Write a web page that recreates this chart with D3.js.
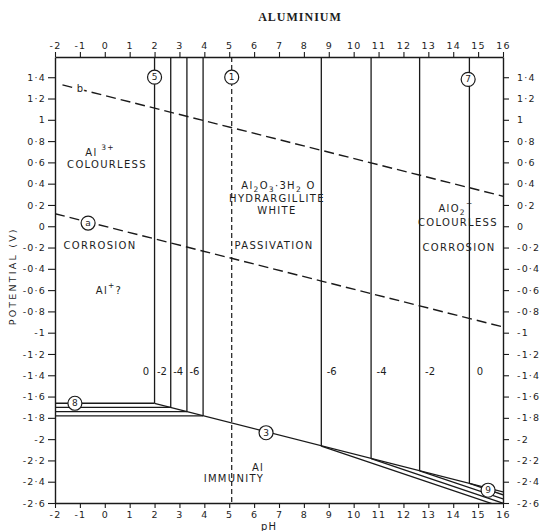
<!DOCTYPE html>
<html>
<head>
<meta charset="utf-8">
<script src="https://cdn.jsdelivr.net/npm/d3@7"></script>
<style>
  html, body { margin: 0; padding: 0; background: #fff; }
  svg { display: block; }
  text { fill: #1d1d1d; }
</style>
</head>
<body>
<svg id="chart" width="542" height="531"></svg>
<script>
// Potential–pH equilibrium diagram for the aluminium–water system at 25 °C.

const phTicks = d3.range(-2, 17, 1);
const potentialTicks = [1.4, 1.2, 1, 0.8, 0.6, 0.4, 0.2, 0, -0.2, -0.4, -0.6, -0.8, -1, -1.2, -1.4, -1.6, -1.8, -2, -2.2, -2.4, -2.6];

// log activity of dissolved aluminium for each family of lines
const logActivity = [0, -2, -4, -6];
// Al3+ / hydrargillite limits (acid side)
const acidLimitPH = [2.0, 2.65, 3.3, 3.95];
// Al3+ / Al potentials (line 8)
const al3Potential = [-1.663, -1.702, -1.742, -1.781];
// hydrargillite / AlO2- limits (alkaline side), with potentials where they meet line 3
const alkLimitPH = [14.65, 12.65, 10.7, 8.7];
const alkLimitPotential = [-2.416, -2.298, -2.184, -2.066];
// AlO2- / Al (line 9) end potentials at pH 16
const aluminateEndPotential = [-2.523, -2.562, -2.602, -2.641];

// hydrargillite / Al (line 3)
const line3 = [[2.0, -1.663], [16, -2.496]];
// water stability limits
const lineA = [[-2, 0.118], [16, -0.946]];
const lineB = [[-1.7, 1.328], [16, 0.282]];
// neutral line (1)
const neutralPH = 5.1;

const svg = d3.select("#chart");
const x = d3.scaleLinear().domain([-2, 16]).range([55, 503]);
const y = d3.scaleLinear().domain([-2.6, 1.59]).range([503, 57]);

const ink = "#1a1a1a";
const fmtE = v => {
  const r = Math.round(v * 10) / 10;
  if (Number.isInteger(r)) return String(r);
  return r.toFixed(1).replace(".", "·");
};
const fmtPH = v => String(v);

// clip region for plotted lines
svg.append("defs").append("clipPath").attr("id", "plotClip")
  .append("rect").attr("x", x(-2)).attr("y", y(1.59)).attr("width", x(16) - x(-2)).attr("height", y(-2.6) - y(1.59));

const axisFont = "'DejaVu Sans', sans-serif";

// axes
function styleAxis(g) {
  g.select(".domain").attr("stroke", ink).attr("stroke-width", 1.4);
  g.selectAll(".tick line").attr("stroke", ink).attr("stroke-width", 1.1);
  g.selectAll(".tick text").attr("font-family", axisFont).attr("font-size", 9.5)
    .attr("letter-spacing", 1.2).attr("fill", ink);
}
svg.append("g").attr("transform", `translate(0,${y(1.59)})`)
  .call(d3.axisTop(x).tickValues(phTicks).tickSize(5).tickSizeOuter(0).tickPadding(3).tickFormat(fmtPH))
  .call(styleAxis);
svg.append("g").attr("transform", `translate(0,${y(-2.6)})`)
  .call(d3.axisBottom(x).tickValues(phTicks).tickSize(5).tickSizeOuter(0).tickPadding(3).tickFormat(fmtPH))
  .call(styleAxis);
svg.append("g").attr("transform", `translate(${x(-2)},0)`)
  .call(d3.axisLeft(y).tickValues(potentialTicks).tickSize(7).tickSizeOuter(0).tickPadding(2).tickFormat(fmtE))
  .call(styleAxis);
svg.append("g").attr("transform", `translate(${x(16)},0)`)
  .call(d3.axisRight(y).tickValues(potentialTicks).tickSize(6).tickSizeOuter(0).tickPadding(8).tickFormat(fmtE))
  .call(styleAxis);

// axis titles
svg.append("text").attr("x", 300).attr("y", 21).attr("text-anchor", "middle")
  .attr("font-family", "'Liberation Serif', serif").attr("font-weight", "bold")
  .attr("font-size", 12).attr("letter-spacing", 1).text("ALUMINIUM");
svg.append("text").attr("transform", `translate(16,${y(-0.47)}) rotate(-90)`)
  .attr("text-anchor", "middle").attr("font-family", axisFont).attr("font-size", 9.5)
  .attr("letter-spacing", 2.2).text("POTENTIAL (V)");
svg.append("text").attr("x", x(6.6)).attr("y", 530).attr("text-anchor", "middle")
  .attr("font-family", axisFont).attr("font-size", 10).attr("letter-spacing", 1).text("pH");

const plot = svg.append("g").attr("clip-path", "url(#plotClip)");
const line = d3.line().x(d => x(d[0])).y(d => y(d[1]));

// water lines a and b
[lineA, lineB].forEach(pts => {
  plot.append("path").attr("d", line(pts)).attr("fill", "none")
    .attr("stroke", ink).attr("stroke-width", 1.4).attr("stroke-dasharray", "10,5");
});
// neutral line 1
plot.append("path").attr("d", line([[neutralPH, 1.59], [neutralPH, -2.6]]))
  .attr("fill", "none").attr("stroke", ink).attr("stroke-width", 1.2).attr("stroke-dasharray", "5,3");

const solid = p => p.attr("fill", "none").attr("stroke", ink).attr("stroke-width", 1.3);

// Al3+ / hydrargillite verticals and Al3+ / Al horizontals
acidLimitPH.forEach((ph, i) => {
  plot.append("path").attr("d", line([[ph, 1.59], [ph, al3Potential[i]]])).call(solid);
  plot.append("path").attr("d", line([[-2, al3Potential[i]], [ph, al3Potential[i]]])).call(solid);
});
// hydrargillite / Al line 3
plot.append("path").attr("d", line(line3)).call(solid);
// hydrargillite / AlO2- verticals and AlO2- / Al lines
alkLimitPH.forEach((ph, i) => {
  plot.append("path").attr("d", line([[ph, 1.59], [ph, alkLimitPotential[i]]])).call(solid);
  plot.append("path").attr("d", line([[ph, alkLimitPotential[i]], [16, aluminateEndPotential[i]]])).call(solid);
});

// activity labels on each family
const labelFont = "'DejaVu Sans', sans-serif";
const actLabel = a => String(a);
acidLimitPH.forEach((ph, i) => {
  svg.append("text").attr("x", x(ph - 0.35)).attr("y", y(-1.36)).attr("text-anchor", "middle")
    .attr("dominant-baseline", "central").attr("font-family", labelFont).attr("font-size", 10)
    .text(actLabel(logActivity[i]));
});
alkLimitPH.forEach((ph, i) => {
  svg.append("text").attr("x", x(ph + 0.42)).attr("y", y(-1.36)).attr("text-anchor", "middle")
    .attr("dominant-baseline", "central").attr("font-family", labelFont).attr("font-size", 10)
    .text(actLabel(logActivity[i]));
});

// "b" tag on the oxygen line
svg.append("text").attr("x", x(-1.0)).attr("y", y(1.29)).attr("text-anchor", "middle")
  .attr("dominant-baseline", "central").attr("font-family", labelFont).attr("font-size", 10)
  .attr("stroke", "#fff").attr("stroke-width", 3).attr("paint-order", "stroke").text("b");

// region labels
function region(ph, e, parts) {
  const t = svg.append("text").attr("x", x(ph)).attr("y", y(e)).attr("text-anchor", "middle")
    .attr("dominant-baseline", "central").attr("font-family", labelFont)
    .attr("font-size", 10).attr("letter-spacing", 1.3);
  parts.forEach(p => {
    const s = t.append("tspan").text(p[0]);
    if (p[1] === "sup") s.attr("baseline-shift", "super").attr("font-size", 7.5);
    if (p[1] === "sub") s.attr("baseline-shift", "sub").attr("font-size", 7.5);
  });
}
region(-0.19, 0.70, [["Al"], [" 3+", "sup"]]);
region(0.09, 0.585, [["COLOURLESS"]]);
region(-0.19, -0.175, [["CORROSION"]]);
region(0.17, -0.60, [["Al"], ["+", "sup"], ["?"]]);
region(6.98, 0.39, [["Al"], ["2", "sub"], ["O"], ["3", "sub"], ["·3H"], ["2", "sub"], [" O"]]);
region(6.92, 0.265, [["HYDRARGILLITE"]]);
region(6.92, 0.15, [["WHITE"]]);
region(6.8, -0.176, [["PASSIVATION"]]);
region(14.11, 0.175, [["AlO"], ["2", "sub"], ["−", "sup"]]);
region(14.19, 0.04, [["COLOURLESS"]]);
region(14.23, -0.195, [["CORROSION"]]);
region(6.16, -2.262, [["Al"]]);
region(5.19, -2.365, [["IMMUNITY"]]);

// numbered circles identifying the equilibria
const markers = [
  { ph: 2.0, e: 1.4, t: "5" },
  { ph: 5.1, e: 1.4, t: "1" },
  { ph: 14.6, e: 1.38, t: "7" },
  { ph: -0.67, e: 0.03, t: "a" },
  { ph: -1.2, e: -1.663, t: "8" },
  { ph: 6.48, e: -1.94, t: "3" },
  { ph: 15.4, e: -2.48, t: "9" }
];
const mk = svg.append("g").selectAll("g").data(markers).join("g")
  .attr("transform", d => `translate(${x(d.ph)},${y(d.e)})`);
mk.append("circle").attr("r", 7).attr("fill", "#fff").attr("stroke", ink).attr("stroke-width", 1.2);
mk.append("text").attr("text-anchor", "middle").attr("dominant-baseline", "central")
  .attr("font-family", labelFont).attr("font-size", 9).text(d => d.t);
</script>
</body>
</html>
